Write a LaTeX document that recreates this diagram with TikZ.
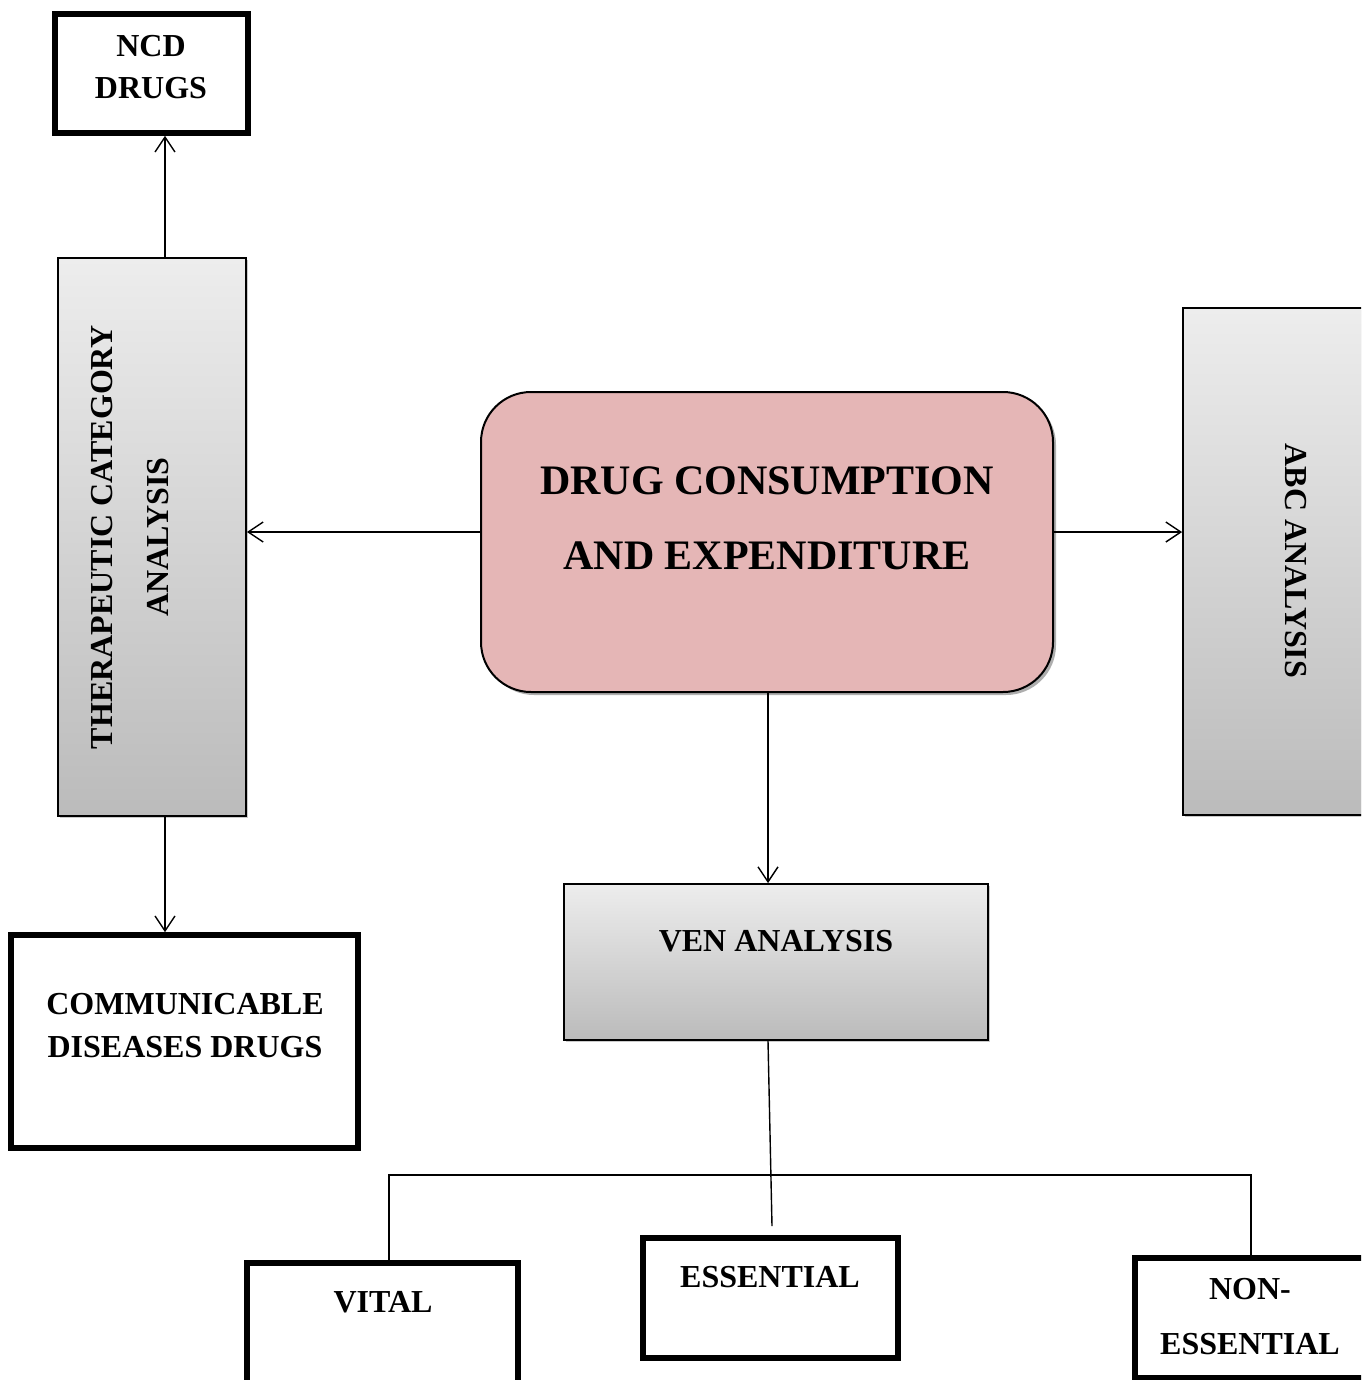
\documentclass[tikz,border=0pt]{standalone}
\usepackage{fontspec}
\setmainfont{Liberation Serif}
\usetikzlibrary{arrows.meta,shadows}
\definecolor{mainpink}{HTML}{E5B6B6}
\definecolor{gtop}{HTML}{EDEDED}
\definecolor{gbot}{HTML}{BBBBBB}
\tikzset{
  thickbox/.style={draw, line width=2.8pt, fill=white, minimum width=#1, inner sep=0pt},
  shadedbox/.style={draw, line width=0.9pt, top color=gtop, bottom color=gbot, inner sep=0pt,
     drop shadow={shadow xshift=1.2pt, shadow yshift=-1.2pt, opacity=0.35, fill=black!60}},
  lbl/.style={font=\bfseries\fontsize{16}{21}\selectfont, align=center, inner sep=0pt},
  arr/.style={line width=0.7pt, -{Straight Barb[length=7.5pt,width=10pt,line width=0.7pt]}},
  conn/.style={line width=0.7pt},
}
\begin{document}
\begin{tikzpicture}[x=0.5pt,y=-0.5pt]
\clip (0,0) rectangle (1361,1380);
\useasboundingbox (0,0) rectangle (1361,1380);
% boxes
\node[thickbox=96.5pt, minimum height=59.5pt] (ncd) at (151.5,73.5) {};
\node[shadedbox, minimum width=94pt, minimum height=279pt] (ther) at (152,537) {};
\node[draw, line width=1pt, fill=mainpink, rounded corners=25pt, minimum width=286pt, minimum height=150pt, inner sep=0pt,
      drop shadow={shadow xshift=1.5pt, shadow yshift=-1.5pt, opacity=0.45, fill=black!70}] (main) at (767,542) {};
\node[shadedbox, minimum width=113pt, minimum height=253.5pt] (abc) at (1296,561.5) {};
\node[shadedbox, minimum width=212pt, minimum height=78pt] (ven) at (776,962) {};
\node[thickbox=173.5pt, minimum height=106.5pt] (comm) at (184.5,1041.5) {};
\node[thickbox=135.5pt, minimum height=75pt] (vital) at (382.5,1338) {};
\node[thickbox=127.5pt, minimum height=60pt] (ess) at (770.5,1298) {};
\node[thickbox=115pt, minimum height=60pt] (non) at (1250,1318) {};
% texts
\node[lbl] (ncdt) at (151,67) {NCD\\DRUGS};
\node[lbl, rotate=90, font=\bfseries\fontsize{16}{28}\selectfont] (thert) at (130,537) {THERAPEUTIC CATEGORY\\ANALYSIS};
\node[lbl, font=\bfseries\fontsize{21}{37.5}\selectfont] (maint) at (767,518) {DRUG CONSUMPTION\\AND EXPENDITURE};
\node[lbl, rotate=-90] (abct) at (1296,561) {ABC ANALYSIS};
\node[lbl] (vent) at (776,941) {VEN ANALYSIS};
\node[lbl, font=\bfseries\fontsize{16}{21.5}\selectfont] (commt) at (185,1026) {COMMUNICABLE\\DISEASES DRUGS};
\node[lbl] (vitalt) at (383,1302) {VITAL};
\node[lbl] (esst) at (770,1277) {ESSENTIAL};
\node[lbl, font=\bfseries\fontsize{16}{27.5}\selectfont] (nont) at (1250,1317) {NON-\\ESSENTIAL};
% connectors
\draw[arr] ([xshift=6.5pt]ther.north) -- ([xshift=6.5pt]ther.north |- ncd.south);
\draw[arr] ([xshift=6.5pt]ther.south) -- ([xshift=6.5pt]ther.south |- comm.north);
\draw[arr] ([yshift=5pt]main.west) -- ([yshift=5pt]main.west -| ther.east);
\draw[arr] ([yshift=5pt]main.east) -- ([yshift=5pt]main.east -| abc.west);
\draw[arr] ([xshift=0.5pt]main.south) -- ([xshift=0.5pt]main.south |- ven.north);
\coordinate (esstop) at (772,1226);
\coordinate (barL) at (389,1175);
\coordinate (barR) at (1251,1175);
\draw[conn] ([xshift=-4pt]ven.south) -- (esstop);
\draw[conn] (barL |- vital.north) -- (barL) -- (barR) -- (barR |- non.north);
\end{tikzpicture}
\end{document}
